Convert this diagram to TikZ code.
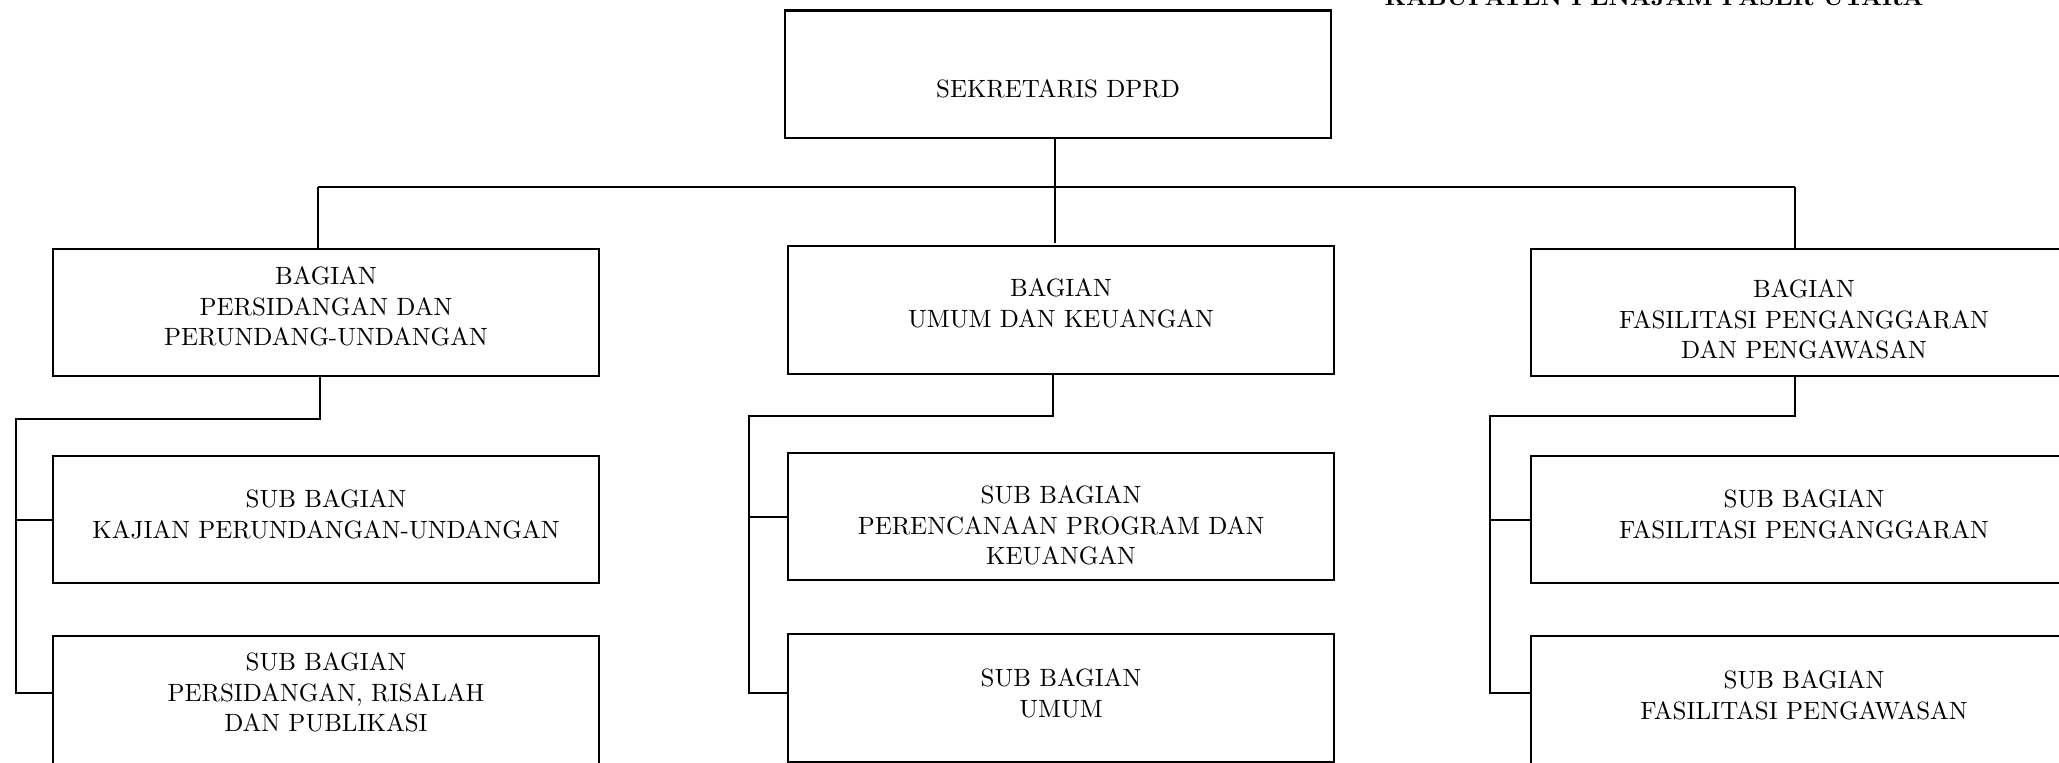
\documentclass[tikz,border=0pt]{standalone}
\usepackage{graphicx}
\newcommand{\bxtext}[1]{\scalebox{0.75}{\fontsize{10}{12.3}\selectfont\begin{tabular}{@{}c@{}}#1\end{tabular}}}
\begin{document}
\begin{tikzpicture}[x=0.3pt,y=-0.3pt,
  box/.style={draw, line width=0.65pt, minimum width=163.8pt, minimum height=38.3pt, inner sep=0pt},
  lbl/.style={align=center, inner sep=0pt},
  conn/.style={line width=0.6pt},
  thinconn/.style={line width=0.4pt}]
\useasboundingbox (0,0) rectangle (2059,762);
\clip (0,0) rectangle (2059,762);

% header (cut off at top)
\node[anchor=base, inner sep=0pt, font=\bfseries] (hdr) at (1654,5)
  {\resizebox{161.7pt}{!}{KABUPATEN PENAJAM PASER UTARA}};

% boxes
\node[box] (sek) at (1058,74.25) {};
\node[lbl] (sekt) at (1058,91) {\bxtext{SEKRETARIS DPRD}};

\node[box] (bL) at (326,312.5) {};
\node[lbl] (bLt) at (326,309) {\bxtext{BAGIAN\\PERSIDANGAN DAN\\PERUNDANG-UNDANGAN}};
\node[box] (bM) at (1061,310) {};
\node[lbl] (bMt) at (1061,306) {\bxtext{BAGIAN\\UMUM DAN KEUANGAN}};
\node[box] (bR) at (1804,312.5) {};
\node[lbl] (bRt) at (1804,322) {\bxtext{BAGIAN\\FASILITASI PENGANGGARAN\\DAN PENGAWASAN}};

\node[box] (sL1) at (326,519.5) {};
\node[lbl] (sL1t) at (326,517) {\bxtext{SUB BAGIAN\\KAJIAN PERUNDANGAN-UNDANGAN}};
\node[box] (sL2) at (326,700) {};
\node[lbl] (sL2t) at (326,695) {\bxtext{SUB BAGIAN\\PERSIDANGAN, RISALAH\\DAN PUBLIKASI}};

\node[box] (sM1) at (1061,516.5) {};
\node[lbl] (sM1t) at (1061,528) {\bxtext{SUB BAGIAN\\PERENCANAAN PROGRAM DAN\\KEUANGAN}};
\node[box] (sM2) at (1061,698) {};
\node[lbl] (sM2t) at (1061,696) {\bxtext{SUB BAGIAN\\UMUM}};

\node[box] (sR1) at (1804,519.5) {};
\node[lbl] (sR1t) at (1804,517) {\bxtext{SUB BAGIAN\\FASILITASI PENGANGGARAN}};
\node[box] (sR2) at (1804,700) {};
\node[lbl] (sR2t) at (1804,697.5) {\bxtext{SUB BAGIAN\\FASILITASI PENGAWASAN}};

% junction coordinates
\coordinate (hub) at (1055,186.5);
\coordinate (mtop) at (1055,243);
\coordinate (jL) at (318,186.5);
\coordinate (jR) at (1795,186.5);
\coordinate (kL) at (320,419);
\coordinate (kL2) at (16,419);
\coordinate (kM) at (1053,416);
\coordinate (kM2) at (748.5,416);
\coordinate (kR) at (1795,416);
\coordinate (kR2) at (1490,416);
\coordinate (tL) at (16,693);
\coordinate (tM) at (748.5,693);
\coordinate (tR) at (1490,693);

% top level connectors
\draw[thinconn] (hub |- sek.south) -- (mtop);
\draw[conn] (jL) -- (jR);
\draw[conn] (jL) -- (jL |- bL.north);
\draw[conn] (jR) -- (jR |- bR.north);

% left branch
\draw[conn] (kL |- bL.south) -- (kL) -- (kL2) -- (tL) -- (tL -| sL2.west);
\draw[conn] (kL2 |- sL1) -- (sL1.west);

% middle branch
\draw[conn] (kM |- bM.south) -- (kM) -- (kM2) -- (tM) -- (tM -| sM2.west);
\draw[conn] (kM2 |- sM1) -- (sM1.west);

% right branch
\draw[conn] (kR |- bR.south) -- (kR) -- (kR2) -- (tR) -- (tR -| sR2.west);
\draw[conn] (kR2 |- sR1) -- (sR1.west);
\end{tikzpicture}
\end{document}
